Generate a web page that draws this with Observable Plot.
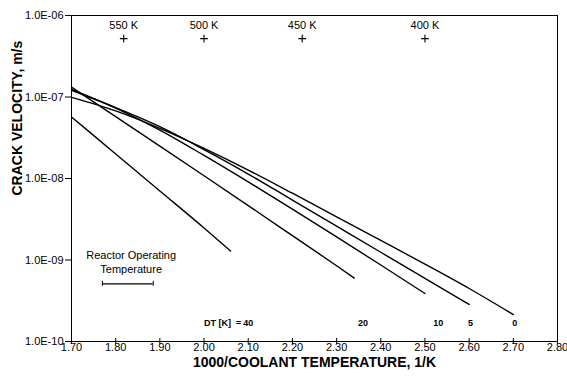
<!DOCTYPE html>
<html>
<head>
<meta charset="utf-8">
<script src="https://cdn.jsdelivr.net/npm/d3@7"></script>
<script src="https://cdn.jsdelivr.net/npm/@observablehq/plot@0.6"></script>
<style>
  html, body { margin: 0; padding: 0; background: #fff; }
  #chart { width: 567px; height: 382px; }
</style>
</head>
<body>
<div id="chart"></div>
<script>
// ---- data ----
const xTicks = [1.70, 1.80, 1.90, 2.00, 2.10, 2.20, 2.30, 2.40, 2.50, 2.60, 2.70, 2.80];
const yTicks = [1e-10, 1e-9, 1e-8, 1e-7, 1e-6];
const yTickLabels = ["1.0E-10", "1.0E-09", "1.0E-08", "1.0E-07", "1.0E-06"];

// DT = 0 K
const x_dt0 = [1.70, 1.80, 1.90, 2.00, 2.10, 2.20, 2.30, 2.40, 2.50, 2.60, 2.70];
const v_dt0 = [9.9e-8, 6.75e-8, 4.12e-8, 2.34e-8, 1.27e-8, 6.6e-9, 3.39e-9, 1.74e-9, 8.9e-10, 4.47e-10, 2.14e-10];
// DT = 5 K
const x_dt5 = [1.70, 1.80, 1.90, 2.00, 2.10, 2.20, 2.30, 2.40, 2.50, 2.60];
const v_dt5 = [1.21e-7, 7.41e-8, 4.32e-8, 2.26e-8, 1.135e-8, 5.43e-9, 2.6e-9, 1.245e-9, 5.96e-10, 2.85e-10];
// DT = 10 K
const x_dt10 = [1.70, 1.80, 1.90, 2.00, 2.10, 2.20, 2.30, 2.40, 2.50];
const v_dt10 = [1.24e-7, 7.31e-8, 3.93e-8, 1.92e-8, 9.1e-9, 4.21e-9, 1.92e-9, 8.69e-10, 3.88e-10];
// DT = 20 K
const x_dt20 = [1.70, 1.80, 1.90, 2.00, 2.10, 2.20, 2.30, 2.34];
const v_dt20 = [1.32e-7, 5.75e-8, 2.5e-8, 1.08e-8, 4.65e-9, 1.99e-9, 8.5e-10, 6.0e-10];
// DT = 40 K
const x_dt40 = [1.70, 1.80, 1.90, 2.00, 2.06];
const v_dt40 = [5.69e-8, 2.0e-8, 7.03e-9, 2.47e-9, 1.29e-9];

// DT labels along the bottom
const dtLabels = ["40", "20", "10", "5", "0"];
const dtLabelX = [2.10, 2.36, 2.53, 2.603, 2.703];
const dtLabelV = 1.7e-10;

// temperature markers along the top
const tempsK = [550, 500, 450, 400];
const tempMarkV = 5.2e-7;

// reactor operating temperature range (1000/T)
const reactorRange = [1.77, 1.885];
const reactorV = 5.1e-10;
const reactorText = ["Reactor Operating", "Temperature"];

// ---- build tables ----
const seriesDefs = [
  {dt: "0", xs: x_dt0, vs: v_dt0},
  {dt: "5", xs: x_dt5, vs: v_dt5},
  {dt: "10", xs: x_dt10, vs: v_dt10},
  {dt: "20", xs: x_dt20, vs: v_dt20},
  {dt: "40", xs: x_dt40, vs: v_dt40}
];
const rows = seriesDefs.flatMap(s => s.xs.map((x, i) => ({dt: s.dt, x, v: s.vs[i]})));
const dtRows = dtLabels.map((t, i) => ({t, x: dtLabelX[i], v: dtLabelV}));
const tempRows = tempsK.map(k => ({label: k + " K", x: 1000 / k, v: tempMarkV}));
const tickLabelOf = new Map(yTicks.map((t, i) => [t, yTickLabels[i]]));

const font = "'Liberation Sans', Arial, Helvetica, sans-serif";

const chart = Plot.plot({
  width: 567,
  height: 382,
  marginLeft: 71,
  marginRight: 10,
  marginTop: 15,
  marginBottom: 41,
  style: {fontFamily: font, fontSize: "11px", background: "white", color: "black"},
  x: {domain: [1.7, 2.8]},
  y: {type: "log", domain: [1e-10, 1e-6]},
  marks: [
    Plot.frame({stroke: "black", strokeWidth: 1}),
    Plot.axisX({ticks: xTicks, tickFormat: d => d.toFixed(2), tickSize: 0, tickPadding: 2, label: null, fontSize: 11}),
    Plot.ruleX(xTicks, {x: d => d, y1: 1e-10, y2: 1e-10, insetTop: -3, insetBottom: -3, stroke: "black"}),
    Plot.axisY({ticks: yTicks, tickFormat: d => tickLabelOf.get(d), tickSize: 6, tickPadding: 2, label: null, fontSize: 11}),
    Plot.text(["1000/COOLANT TEMPERATURE, 1/K"], {frameAnchor: "bottom", dy: 25, fontWeight: "bold", fontSize: 14}),
    Plot.text(["CRACK VELOCITY, m/s"], {frameAnchor: "left", dx: -54, dy: 17, rotate: -90, fontWeight: "bold", fontSize: 14}),
    Plot.line(rows, {x: "x", y: "v", z: "dt", stroke: "black", strokeWidth: 1.4, curve: "monotone-x"}),
    Plot.dot(tempRows, {x: "x", y: "v", symbol: "plus", r: 2.6, stroke: "black", strokeWidth: 1.1}),
    Plot.text(tempRows, {x: "x", y: "v", text: "label", dy: -13, fontSize: 11}),
    Plot.text(["DT [K]  ="], {x: 2.0, y: dtLabelV, textAnchor: "start", fontSize: 9, fontWeight: "bold"}),
    Plot.text(dtRows, {x: "x", y: "v", text: "t", fontSize: 9, fontWeight: "bold"}),
    Plot.ruleY([reactorV], {x1: reactorRange[0], x2: reactorRange[1], y: d => d, stroke: "black", strokeWidth: 1.3}),
    Plot.ruleX(reactorRange, {x: d => d, y1: reactorV, y2: reactorV, insetTop: -2.5, insetBottom: -2.5, stroke: "black"}),
    Plot.text([reactorText[0]], {x: 1.835, y: reactorV, dy: -28, fontSize: 11}),
    Plot.text([reactorText[1]], {x: 1.835, y: reactorV, dy: -14, fontSize: 11})
  ]
});
document.getElementById("chart").appendChild(chart);
</script>
</body>
</html>
